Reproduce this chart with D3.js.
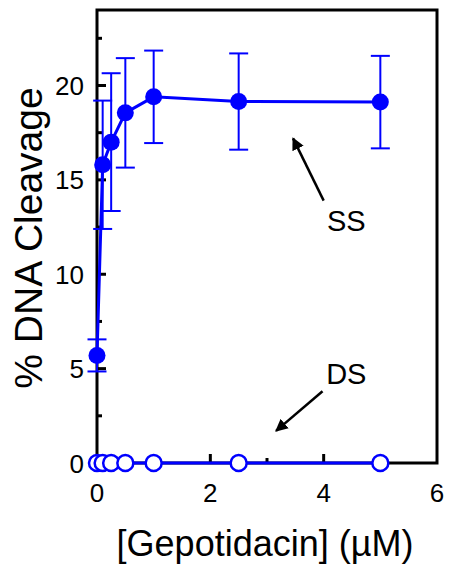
<!DOCTYPE html>
<html>
<head>
<meta charset="utf-8">
<script src="https://cdn.jsdelivr.net/npm/d3@7"></script>
<style>
  body { margin: 0; background: #fff; }
  svg text { font-family: "Liberation Sans", Arial, sans-serif; }
</style>
</head>
<body>
<div id="chart"></div>
<script>
// gepotidacin concentrations (uM)
var conc = [0, 0.1, 0.25, 0.5, 1, 2.5, 5];
// single stranded cleavage, mean and error
var ssMean = [5.7, 15.8, 17.0, 18.55, 19.4, 19.15, 19.12];
var ssErr  = [0.85, 3.4, 3.65, 2.9, 2.45, 2.55, 2.45];
// double stranded cleavage
var dsMean = [0, 0, 0, 0, 0, 0, 0];

var xMajor = [0, 2, 4, 6];
var xMinor = [1, 3, 5];
var yMajor = [0, 5, 10, 15, 20];
var yMinor = [2.5, 7.5, 12.5, 17.5, 22.5];

var margin = {top: 10, right: 12, bottom: 105, left: 97},
    width = 449 - margin.left - margin.right,
    height = 568 - margin.top - margin.bottom;

var svg = d3.select("#chart").append("svg")
    .attr("width", 449)
    .attr("height", 568)
  .append("g")
    .attr("transform", "translate(" + margin.left + "," + margin.top + ")");

var x = d3.scaleLinear().domain([0, 6]).range([0, width]);
var y = d3.scaleLinear().domain([0, 24]).range([height, 0]);

var blue = "#0000ff";

// frame
svg.append("rect")
    .attr("width", width)
    .attr("height", height)
    .attr("fill", "none")
    .attr("stroke", "#000")
    .attr("stroke-width", 3);

// ticks (inside)
svg.selectAll(".xt").data(xMajor.slice(1, 3)).enter().append("line")
    .attr("x1", d => x(d)).attr("x2", d => x(d))
    .attr("y1", height).attr("y2", height - 9)
    .attr("stroke", "#000").attr("stroke-width", 3);
svg.selectAll(".xm").data(xMinor).enter().append("line")
    .attr("x1", d => x(d)).attr("x2", d => x(d))
    .attr("y1", height).attr("y2", height - 5)
    .attr("stroke", "#000").attr("stroke-width", 3);
svg.selectAll(".yt").data(yMajor.slice(1)).enter().append("line")
    .attr("x1", 0).attr("x2", 9)
    .attr("y1", d => y(d)).attr("y2", d => y(d))
    .attr("stroke", "#000").attr("stroke-width", 3);
svg.selectAll(".ym").data(yMinor).enter().append("line")
    .attr("x1", 0).attr("x2", 5)
    .attr("y1", d => y(d)).attr("y2", d => y(d))
    .attr("stroke", "#000").attr("stroke-width", 3);

// tick labels
svg.selectAll(".xl").data(xMajor).enter().append("text")
    .attr("x", d => x(d)).attr("y", height + 39)
    .attr("text-anchor", "middle")
    .style("font-size", "26px")
    .text(d => d);
svg.selectAll(".yl").data(yMajor).enter().append("text")
    .attr("x", -13).attr("y", d => y(d) + 9.5)
    .attr("text-anchor", "end")
    .style("font-size", "26px")
    .text(d => d);

// axis titles
svg.append("text")
    .attr("x", 168).attr("y", height + 93)
    .attr("text-anchor", "middle")
    .style("font-size", "36px")
    .text("[Gepotidacin] (\u00b5M)");
svg.append("text")
    .attr("transform", "rotate(-90)")
    .attr("x", -228).attr("y", -55)
    .attr("text-anchor", "middle")
    .style("font-size", "39px")
    .text("% DNA Cleavage");

var ss = conc.map((c, i) => ({x: c, y: ssMean[i], e: ssErr[i]}));
var ds = conc.map((c, i) => ({x: c, y: dsMean[i]}));

var line = d3.line().x(d => x(d.x)).y(d => y(d.y));

// DS series
svg.append("path").datum(ds)
    .attr("d", line).attr("fill", "none")
    .attr("stroke", blue).attr("stroke-width", 3);
svg.selectAll(".ds").data(ds).enter().append("circle")
    .attr("cx", d => x(d.x)).attr("cy", d => y(d.y))
    .attr("r", 8)
    .attr("fill", "#fff").attr("stroke", blue).attr("stroke-width", 2.5);

// SS error bars
var eb = svg.selectAll(".eb").data(ss).enter().append("g");
eb.append("line")
    .attr("x1", d => x(d.x)).attr("x2", d => x(d.x))
    .attr("y1", d => y(d.y - d.e)).attr("y2", d => y(d.y + d.e))
    .attr("stroke", blue).attr("stroke-width", 2);
eb.append("line")
    .attr("x1", d => x(d.x) - 9.5).attr("x2", d => x(d.x) + 9.5)
    .attr("y1", d => y(d.y + d.e)).attr("y2", d => y(d.y + d.e))
    .attr("stroke", blue).attr("stroke-width", 2);
eb.append("line")
    .attr("x1", d => x(d.x) - 9.5).attr("x2", d => x(d.x) + 9.5)
    .attr("y1", d => y(d.y - d.e)).attr("y2", d => y(d.y - d.e))
    .attr("stroke", blue).attr("stroke-width", 2);

// SS line + points
svg.append("path").datum(ss)
    .attr("d", line).attr("fill", "none")
    .attr("stroke", blue).attr("stroke-width", 3);
svg.selectAll(".ss").data(ss).enter().append("circle")
    .attr("cx", d => x(d.x)).attr("cy", d => y(d.y))
    .attr("r", 8.5)
    .attr("fill", blue);

// annotations
svg.append("defs").append("marker")
    .attr("id", "arr")
    .attr("viewBox", "0 0 10 10")
    .attr("refX", 9).attr("refY", 5)
    .attr("markerWidth", 5).attr("markerHeight", 5)
    .attr("orient", "auto")
  .append("path")
    .attr("d", "M0,0 L10,5 L0,10 z")
    .attr("fill", "#000");

function note(label, tx, ty, x1, y1, x2, y2) {
    svg.append("text")
        .attr("x", x(tx)).attr("y", y(ty))
        .attr("text-anchor", "middle")
        .style("font-size", "29px")
        .text(label);
    svg.append("line")
        .attr("x1", x(x1)).attr("y1", y(y1))
        .attr("x2", x(x2)).attr("y2", y(y2))
        .attr("stroke", "#000").attr("stroke-width", 2.5)
        .attr("marker-end", "url(#arr)");
}
note("SS", 4.4, 12.3, 4.0, 13.9, 3.46, 17.2);
note("DS", 4.4, 4.2, 3.98, 3.8, 3.16, 1.7);
</script>
</body>
</html>
